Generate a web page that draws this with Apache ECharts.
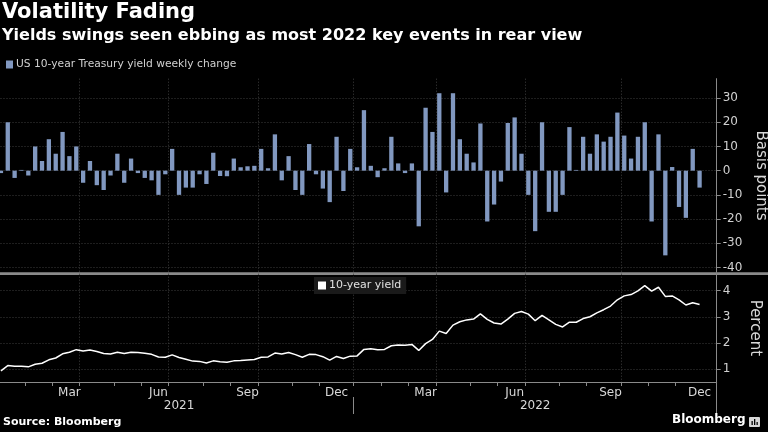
<!DOCTYPE html>
<html><head><meta charset="utf-8">
<script src="https://cdn.jsdelivr.net/npm/echarts@6/dist/echarts.min.js"></script>
<style>html,body{margin:0;padding:0;background:#000}#c{width:768px;height:432px}</style>
</head><body><div id="c"></div>
<script>
// Weekly categories (Fridays)
const weeks = [
'2021-01-01','2021-01-08','2021-01-15','2021-01-22','2021-01-29','2021-02-05','2021-02-12','2021-02-19','2021-02-26',
'2021-03-05','2021-03-12','2021-03-19','2021-03-26','2021-04-02','2021-04-09','2021-04-16','2021-04-23','2021-04-30',
'2021-05-07','2021-05-14','2021-05-21','2021-05-28','2021-06-04','2021-06-11','2021-06-18','2021-06-25',
'2021-07-02','2021-07-09','2021-07-16','2021-07-23','2021-07-30','2021-08-06','2021-08-13','2021-08-20','2021-08-27',
'2021-09-03','2021-09-10','2021-09-17','2021-09-24','2021-10-01','2021-10-08','2021-10-15','2021-10-22','2021-10-29',
'2021-11-05','2021-11-12','2021-11-19','2021-11-26','2021-12-03','2021-12-10','2021-12-17','2021-12-24','2021-12-31',
'2022-01-07','2022-01-14','2022-01-21','2022-01-28','2022-02-04','2022-02-11','2022-02-18','2022-02-25',
'2022-03-04','2022-03-11','2022-03-18','2022-03-25','2022-04-01','2022-04-08','2022-04-15','2022-04-22','2022-04-29',
'2022-05-06','2022-05-13','2022-05-20','2022-05-27','2022-06-03','2022-06-10','2022-06-17','2022-06-24',
'2022-07-01','2022-07-08','2022-07-15','2022-07-22','2022-07-29','2022-08-05','2022-08-12','2022-08-19','2022-08-26',
'2022-09-02','2022-09-09','2022-09-16','2022-09-23','2022-09-30','2022-10-07','2022-10-14','2022-10-21','2022-10-28',
'2022-11-04','2022-11-11','2022-11-18','2022-11-25','2022-12-02','2022-12-09','2022-12-16','2022-12-23','2022-12-30'
];
// US 10-year Treasury yield weekly change (basis points)
const weeklyChangeBp = [
-1, 20, -3, 0.3, -2, 10, 4, 13, 7, 16,
6, 10, -5, 4, -6, -8, -2, 7, -5, 5,
-1, -3, -4, -10, -1.5, 9, -10, -7, -7, -1.5,
-5.5, 7.4, -2.2, -2.3, 5, 1.4, 1.8, 2, 9, 1,
15, -4, 6, -8, -10, 11, -1.5, -7.4, -13, 14,
-8.4, 9, 1.4, 25, 2, -2.7, 1, 14, 3, -1,
3, -23, 26, 16, 32, -9, 32, 13, 7, 3.4,
19.5, -21, -14, -4.5, 19.7, 22, 7, -10, -25, 20,
-17, -17, -10, 18, 0.3, 14, 7, 15, 12, 14,
24, 14.5, 5, 14, 20, -21, 15, -35, 1.5, -15,
-19.5, 9, -7
];
// 10-year yield (percent)
const yield10y = [
0.93, 1.13, 1.10, 1.10, 1.08, 1.18, 1.22, 1.35, 1.42, 1.58,
1.64, 1.74, 1.69, 1.73, 1.67, 1.59, 1.57, 1.64, 1.59, 1.64,
1.63, 1.60, 1.56, 1.46, 1.45, 1.54, 1.44, 1.37, 1.30, 1.29,
1.23, 1.31, 1.28, 1.26, 1.31, 1.32, 1.34, 1.36, 1.45, 1.46,
1.61, 1.57, 1.63, 1.55, 1.45, 1.56, 1.55, 1.47, 1.34, 1.48,
1.40, 1.49, 1.50, 1.75, 1.77, 1.74, 1.75, 1.89, 1.92, 1.91,
1.94, 1.71, 1.97, 2.13, 2.45, 2.36, 2.68, 2.81, 2.88, 2.91,
3.11, 2.90, 2.76, 2.72, 2.91, 3.13, 3.20, 3.10, 2.85, 3.05,
2.88, 2.71, 2.61, 2.79, 2.79, 2.93, 3.00, 3.15, 3.27, 3.41,
3.65, 3.80, 3.85, 3.99, 4.19, 3.98, 4.13, 3.78, 3.80, 3.65,
3.45, 3.54, 3.47
];
const barTicks = [-40, -30, -20, -10, 0, 10, 20, 30];
const yieldTicks = [1, 2, 3, 4];
const monthNames = ['Jan','Feb','Mar','Apr','May','Jun','Jul','Aug','Sep','Oct','Nov','Dec'];
const labelMonths = [2, 5, 8, 11];
const quarterMonths = [0, 3, 6, 9];

const FONT = 'DejaVu Sans';
const mon = s => +s.slice(5, 7) - 1;
const day = s => +s.slice(8, 10);
const monthChange = i => i + 1 < weeks.length && mon(weeks[i + 1]) !== mon(weeks[i]);
const quarterLine = i => monthChange(i) && quarterMonths.includes(mon(weeks[i + 1]));
// year boundaries: axis start (Jan 2021) and the Dec->Jan change
const yearTick = i => i === 0 || (monthChange(i) && mon(weeks[i + 1]) === 0);
const monthLabel = i => labelMonths.includes(mon(weeks[i])) && day(weeks[i]) >= 10 && day(weeks[i]) <= 16;
const yearLabel = i => mon(weeks[i]) === 6 && day(weeks[i]) <= 7;

const gridLine = { show: true, interval: (i) => quarterLine(i), lineStyle: { color: '#3d3d3d', type: [1, 2], width: 1 } };

const chart = echarts.init(document.getElementById('c'));
chart.setOption({
  backgroundColor: '#000',
  animation: false,
  title: [
    { text: 'Volatility Fading', left: 2, top: 2, padding: 0, textStyle: { color: '#fff', fontSize: 21, fontWeight: 'bold', fontFamily: FONT } },
    { text: 'Yields swings seen ebbing as most 2022 key events in rear view', left: 2, top: 28, padding: 0, textStyle: { color: '#fff', fontSize: 16, fontWeight: 'bold', fontFamily: FONT } },
    { text: 'Source: Bloomberg', left: 3, top: 417, padding: 0, textStyle: { color: '#fff', fontSize: 11, fontWeight: 'bold', fontFamily: FONT } },
    { text: 'Bloomberg', left: 672, top: 414, padding: 0, textStyle: { color: '#fff', fontSize: 12, fontWeight: 'bold', fontFamily: FONT } }
  ],
  legend: [
    { data: ['US 10-year Treasury yield weekly change'], left: 6, top: 59, padding: 0, icon: 'rect', itemWidth: 7, itemHeight: 8, itemGap: 4, selectedMode: false,
      textStyle: { color: '#d0d0d0', fontSize: 10.7, fontFamily: FONT, padding: [0, 0, 0, -2] } },
    { data: ['10-year yield'], left: 314, top: 277, padding: [3, 5, 3, 4], backgroundColor: '#1a1a1a', icon: 'rect', itemWidth: 8, itemHeight: 8, selectedMode: false,
      textStyle: { color: '#e0e0e0', fontSize: 11, fontFamily: FONT, padding: [0, 0, 0, -2] } }
  ],
  grid: [
    { left: -2.5, right: 51.3, top: 78.7, height: 193.6, outerBoundsMode: 'none', containLabel: false },
    { left: -2.5, right: 51.3, top: 273.7, height: 108.3, outerBoundsMode: 'none', containLabel: false }
  ],
  xAxis: [
    { gridIndex: 0, type: 'category', data: weeks, boundaryGap: true,
      axisLine: { show: false }, axisTick: { show: false }, axisLabel: { show: false }, splitLine: gridLine },
    { gridIndex: 1, type: 'category', data: weeks, boundaryGap: true,
      axisLine: { show: true, lineStyle: { color: '#8a8a8a', width: 1 } },
      axisTick: { show: true, interval: (i) => monthChange(i), length: 4, lineStyle: { color: '#8a8a8a' } },
      axisLabel: { show: true, interval: (i) => monthLabel(i), formatter: (v) => monthNames[mon(v)], color: '#d8d8d8', fontSize: 12, fontFamily: FONT, margin: 5 },
      splitLine: gridLine },
    { gridIndex: 1, type: 'category', data: weeks, boundaryGap: true, position: 'bottom', offset: 15,
      axisLine: { show: false },
      axisTick: { show: true, interval: (i) => yearTick(i), length: 17, lineStyle: { color: '#8a8a8a' } },
      axisLabel: { show: true, interval: (i) => yearLabel(i), formatter: (v) => v.slice(0, 4), color: '#d8d8d8', fontSize: 12, fontFamily: FONT, margin: 3 },
      splitLine: { show: false } }
  ],
  yAxis: [
    { gridIndex: 0, type: 'value', position: 'right', min: -42, max: 38,
      axisLine: { show: true, lineStyle: { color: '#8a8a8a' } },
      axisTick: { show: true, length: 4, customValues: barTicks, lineStyle: { color: '#8a8a8a' } },
      axisLabel: { customValues: barTicks, color: '#d0d0d0', fontSize: 12, fontFamily: FONT, margin: 6 },
      splitLine: { show: true, lineStyle: { color: '#3d3d3d', type: [1, 2] } },
      name: 'Basis points', nameLocation: 'middle', nameRotate: -90, nameGap: 31,
      nameTextStyle: { color: '#d8d8d8', fontSize: 15, fontFamily: FONT } },
    { gridIndex: 1, type: 'value', position: 'right', min: 0.5, max: 4.65,
      axisLine: { show: true, lineStyle: { color: '#8a8a8a' } },
      axisTick: { show: true, length: 4, customValues: yieldTicks, lineStyle: { color: '#8a8a8a' } },
      axisLabel: { customValues: yieldTicks, color: '#d0d0d0', fontSize: 12, fontFamily: FONT, margin: 6 },
      splitLine: { show: true, lineStyle: { color: '#3d3d3d', type: [1, 2] } },
      name: 'Percent', nameLocation: 'middle', nameRotate: -90, nameGap: 31,
      nameTextStyle: { color: '#d8d8d8', fontSize: 15, fontFamily: FONT } }
  ],
  series: [
    { name: 'US 10-year Treasury yield weekly change', type: 'bar', xAxisIndex: 0, yAxisIndex: 0,
      data: weeklyChangeBp, barWidth: 4.3, itemStyle: { color: '#8198c0' } },
    { name: '10-year yield', type: 'line', xAxisIndex: 1, yAxisIndex: 1,
      data: yield10y, showSymbol: false, symbol: 'none', lineStyle: { color: '#fff', width: 1.5 }, itemStyle: { color: '#fff' } }
  ],
  graphic: [
    { type: 'rect', shape: { x: 0, y: 272.3, width: 768, height: 2.6 }, style: { fill: '#8a8a8a' }, silent: true },
    { type: 'line', shape: { x1: 716.5, y1: 382, x2: 716.5, y2: 398 }, style: { stroke: '#8a8a8a', lineWidth: 1 }, silent: true },
    { type: 'rect', shape: { x: 749, y: 417, width: 11, height: 10, r: 1 }, style: { fill: '#d8d8d8' }, silent: true },
    { type: 'rect', shape: { x: 751.5, y: 421, width: 1.3, height: 4 }, style: { fill: '#000' }, silent: true },
    { type: 'rect', shape: { x: 754, y: 419, width: 1.3, height: 6 }, style: { fill: '#000' }, silent: true },
    { type: 'rect', shape: { x: 756.5, y: 422, width: 1.3, height: 3 }, style: { fill: '#000' }, silent: true }
  ]
});
</script>
</body></html>
